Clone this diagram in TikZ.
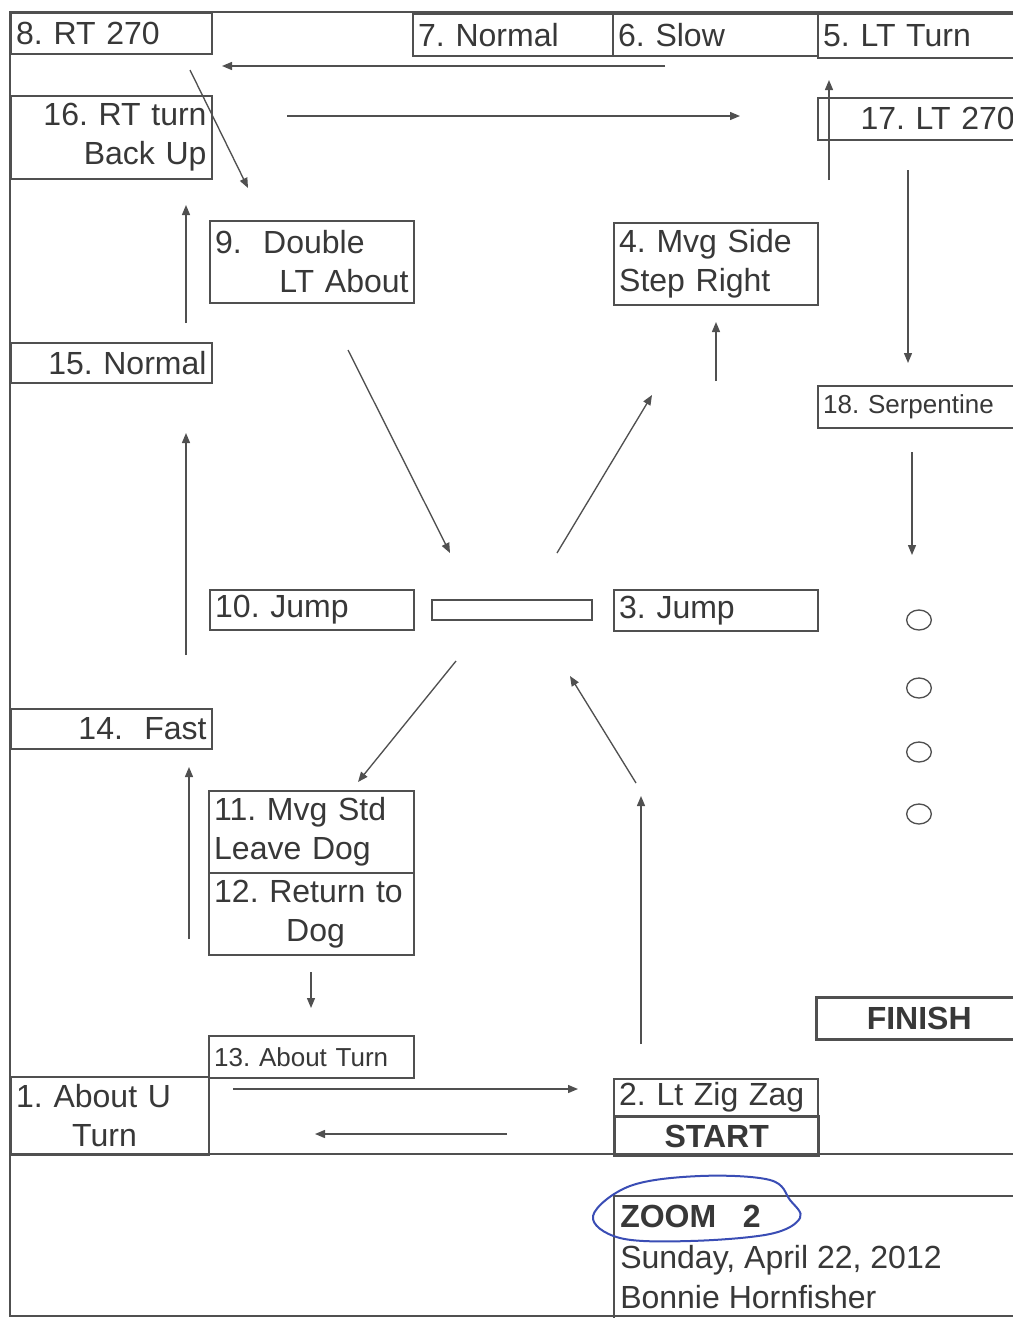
\documentclass[tikz,border=0pt]{standalone}
\usepackage{fontspec}
\setmainfont{Liberation Sans}
\usetikzlibrary{arrows.meta,shapes.geometric}
\definecolor{ink}{HTML}{505050}
\definecolor{txt}{HTML}{383838}
\definecolor{pen}{HTML}{3A4DB5}
\newcommand\cbox[7]{%
 \pgfmathsetmacro\bw{(#4-#2)*0.75}%
 \pgfmathsetmacro\bh{(#5-#3)*0.75}%
 \pgfmathsetmacro\tw{(#4-#2)*0.75-8}%
 \node[box,#6,minimum width=\bw pt,minimum height=\bh pt,text width=\tw pt] (#1) at (#2,#3) {#7};}
\begin{document}
\begin{tikzpicture}[x=0.75pt,y=-0.75pt,
  box/.style={draw=ink, line width=1.3pt, rectangle, inner xsep=4pt, inner ysep=0pt,
    anchor=north west, align=left, text=txt,
    font=\fontsize{24}{29.25}\selectfont\frenchspacing},
  rt/.style={align=right},
  ctr/.style={align=center},
  small/.style={font=\fontsize{19.5}{24}\selectfont\frenchspacing},
  heavy/.style={line width=2.6pt, font=\fontsize{24}{29.25}\selectfont\bfseries},
  arr/.style={draw=ink, line width=1pt, -{Triangle[length=7.5pt,width=6pt]}},
  frame/.style={draw=ink, line width=1.3pt},
  cone/.style={draw=ink, line width=1pt, ellipse, inner sep=0pt, minimum width=18.5pt, minimum height=15pt},
  ztext/.style={anchor=base west, inner sep=0pt, text=txt, font=\fontsize{24}{29.25}\selectfont\frenchspacing}
]
\clip (0,0) rectangle (1013,1318);
\fill[white] (0,0) rectangle (1013,1318);
% frame
\draw[frame] (1020,12) -- (10,12) -- (10,1316) -- (1020,1316);
\draw[frame] (10,1154) -- (1020,1154);
% boxes
\cbox{b8}{10}{12}{211}{53}{}{8. RT 270}
\cbox{b7}{412}{13}{612}{55}{}{7. Normal}
\cbox{b6}{612}{13}{817}{55}{}{6. Slow}
\cbox{b5}{817}{13}{1020}{57}{}{5. LT Turn}
\cbox{b16}{10}{95}{211}{178}{rt}{16. RT turn\\Back Up}
\cbox{b17}{817}{97}{1020}{139}{}{\hspace*{28pt}17. LT 270}
\cbox{b9}{209}{220}{413}{302}{}{9.\ \ Double\\\hspace*{\fill}LT About}
\cbox{b4}{613}{222}{817}{304}{}{4. Mvg Side\\Step Right}
\cbox{b15}{10}{342}{211}{382}{rt}{15. Normal}
\cbox{b18}{817}{385}{1020}{427}{small}{18. Serpentine}
\cbox{b10}{209}{589}{413}{629}{}{10. Jump}
\cbox{bar}{431}{599}{591}{619}{}{}
\cbox{b3}{613}{589}{817}{630}{}{3. Jump}
\cbox{b14}{10}{708}{211}{748}{rt}{14.\ \ Fast}
\cbox{b11}{208}{790}{413}{872}{}{11. Mvg Std\\Leave Dog}
\cbox{b12}{208}{872}{413}{954}{}{12. Return to\\\hspace*{54pt}Dog}
\cbox{b13}{208}{1035}{413}{1077}{small}{13. About Turn}
\cbox{b1}{10}{1076}{208}{1154}{}{1. About U\\\hspace*{42pt}Turn}
\cbox{b2}{613}{1078}{817}{1115}{}{2. Lt Zig Zag}
\cbox{bst}{613}{1115}{817}{1154}{heavy,ctr}{START}
\cbox{bfin}{815}{996}{1020}{1038}{heavy,ctr}{FINISH}
\cbox{bz}{613}{1195}{1020}{1320}{}{}
% cones
\node[cone] (c1) at (919,620) {};
\node[cone] (c2) at (919,688) {};
\node[cone] (c3) at (919,752) {};
\node[cone] (c4) at (919,814) {};
% footer text
\node[ztext, font=\fontsize{24}{29.25}\selectfont\bfseries] (z1) at (620,1227) {ZOOM\hspace{20pt}2};
\node[ztext] (z2) at (620,1268) {Sunday, April 22, 2012};
\node[ztext] (z3) at (620,1308) {Bonnie Hornfisher};
\draw[pen, line width=1.5pt] plot[smooth cycle, tension=0.6] coordinates
  {(593,1216) (630,1186) (700,1176) (770,1180) (790,1200) (800,1218) (770,1234) (690,1241) (620,1238)};
% arrows
\coordinate (p1s) at (665,66);   \coordinate (p1e) at (222,66);
\coordinate (p2s) at (190,70);   \coordinate (p2e) at (248,188);
\coordinate (p3s) at (287,116);  \coordinate (p3e) at (740,116);
\coordinate (p4s) at (829,180);  \coordinate (p4e) at (829,80);
\coordinate (p5s) at (908,170);  \coordinate (p5e) at (908,363);
\coordinate (p6s) at (186,323);  \coordinate (p6e) at (186,205);
\coordinate (p7s) at (716,381);  \coordinate (p7e) at (716,322);
\coordinate (p8s) at (186,655);  \coordinate (p8e) at (186,433);
\coordinate (p9s) at (348,350);  \coordinate (p9e) at (450,553);
\coordinate (p10s) at (557,553); \coordinate (p10e) at (652,395);
\coordinate (p11s) at (912,452); \coordinate (p11e) at (912,555);
\coordinate (p12s) at (456,661); \coordinate (p12e) at (358,782);
\coordinate (p13s) at (636,783); \coordinate (p13e) at (570,676);
\coordinate (p14s) at (189,939); \coordinate (p14e) at (189,767);
\coordinate (p15s) at (311,972); \coordinate (p15e) at (311,1008);
\coordinate (p16s) at (233,1089); \coordinate (p16e) at (578,1089);
\coordinate (p17s) at (507,1134); \coordinate (p17e) at (315,1134);
\coordinate (p18s) at (641,1044); \coordinate (p18e) at (641,796);
\foreach \i in {1,...,18} \draw[arr] (p\i s) -- (p\i e);
\end{tikzpicture}
\end{document}
